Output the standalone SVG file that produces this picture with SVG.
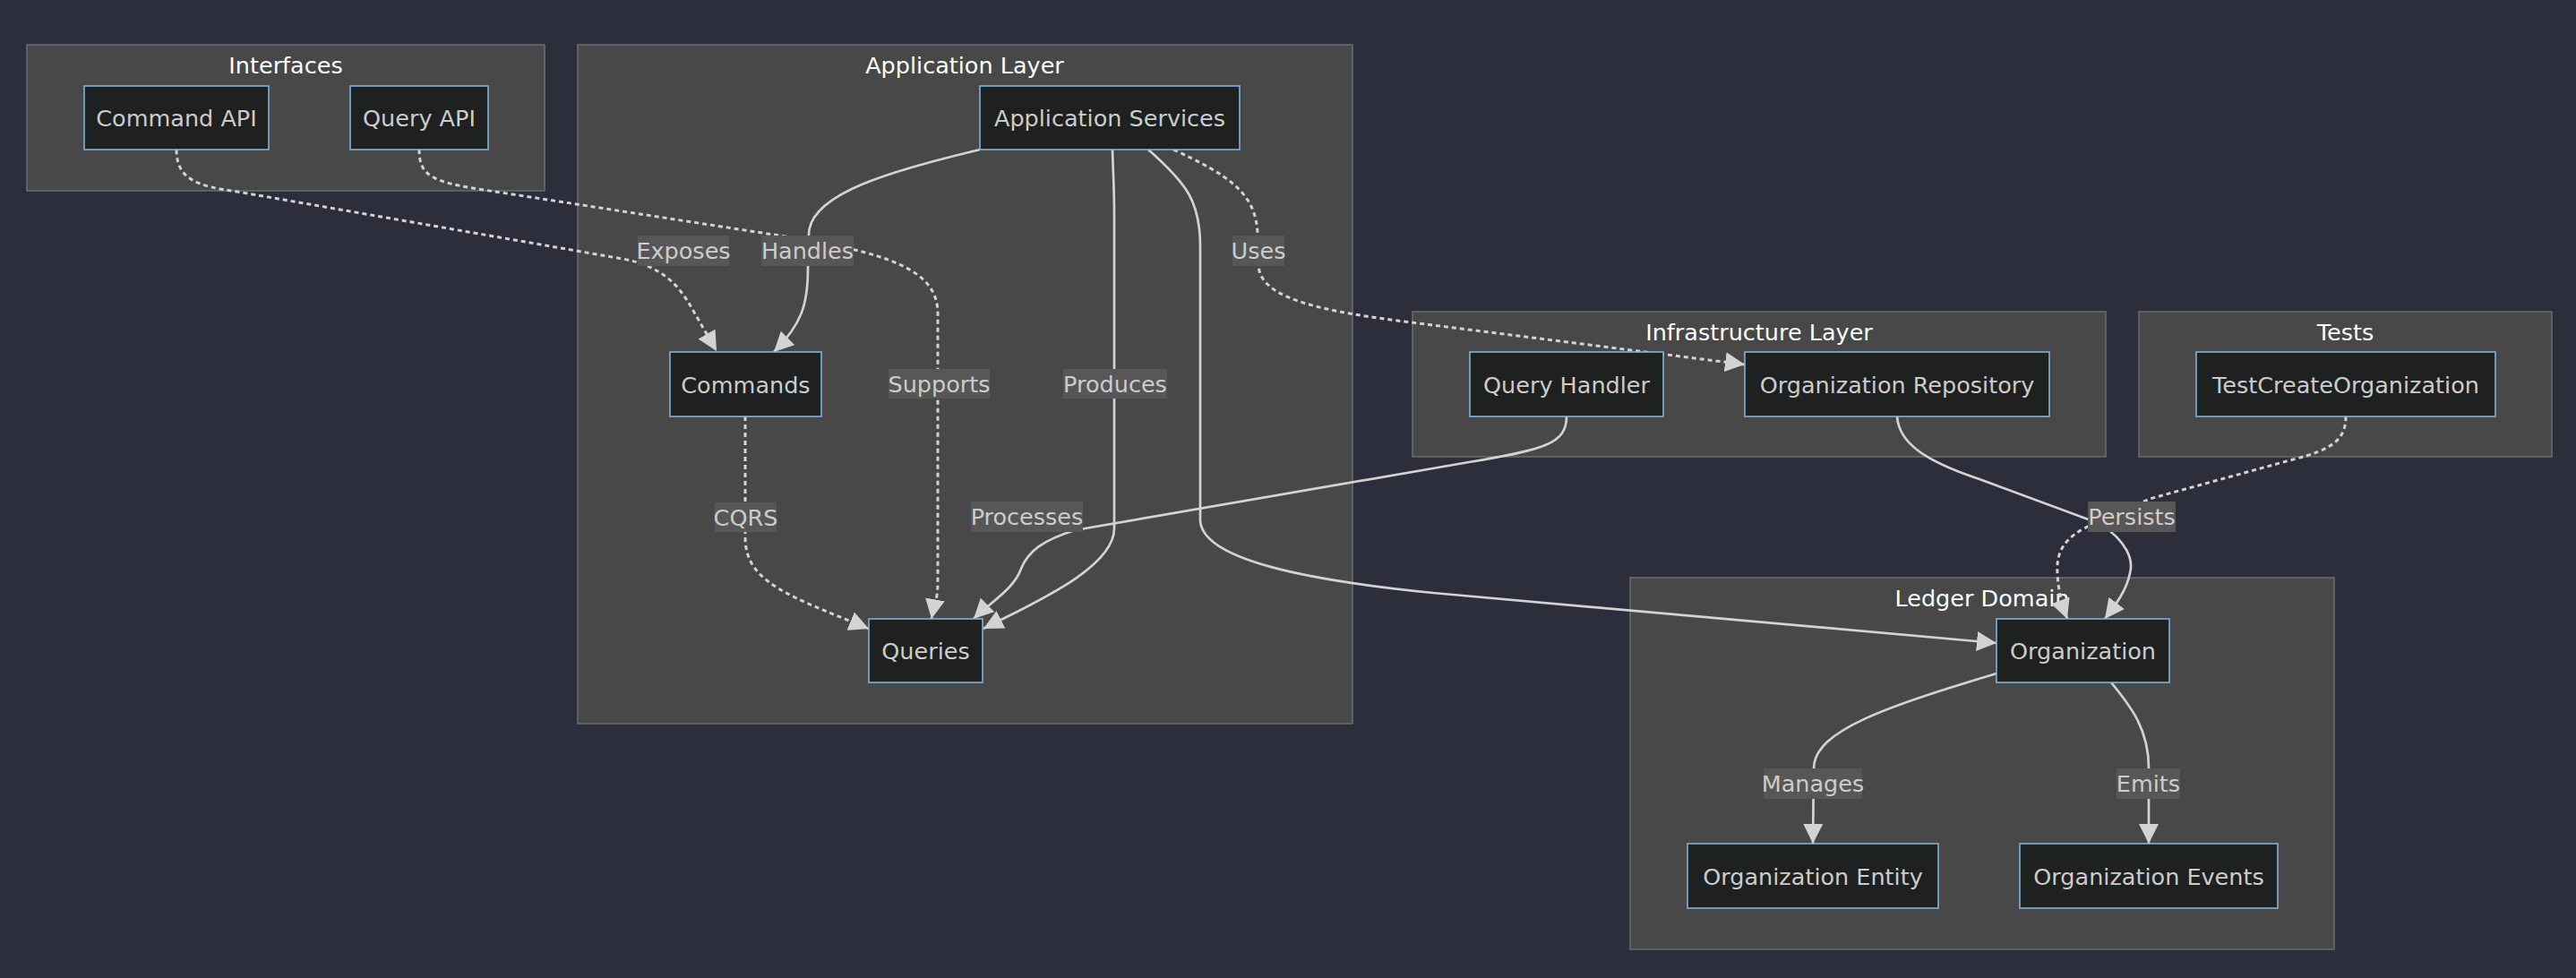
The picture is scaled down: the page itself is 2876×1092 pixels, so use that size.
<svg xmlns="http://www.w3.org/2000/svg" width="2876" height="1092" viewBox="0 0 2876 1092">
<style>
.bg{fill:#2c2f3b}
.cluster rect{fill:#484848;stroke:#6b6d72;stroke-width:1.5}
.ctitle{fill:#f9fffe;font-family:"DejaVu Sans",sans-serif;font-size:25.5px;text-anchor:middle}
.node rect{fill:#1f2020;stroke:#81b1db;stroke-width:1.6}
.node text{fill:#cccccc;font-family:"DejaVu Sans",sans-serif;font-size:25.5px;text-anchor:middle}
.edge{fill:none;stroke:#d3d3d3;stroke-width:2.7;marker-end:url(#arrow)}
.dotted{stroke-width:3;stroke-dasharray:5 4}
.elabel rect{fill:#575757}
.elabel text{fill:#cccccc;font-family:"DejaVu Sans",sans-serif;font-size:25.5px;text-anchor:middle}
</style>
<defs>
<marker id="arrow" viewBox="0 0 10 10" refX="10" refY="5" markerWidth="22" markerHeight="22" markerUnits="userSpaceOnUse" orient="auto">
<path d="M0,0 L10,5 L0,10 z" fill="#d3d3d3" stroke="none"/>
</marker>
</defs>
<rect class="bg" x="0" y="0" width="2876" height="1092"/>

<g id="clusters">
<g id="cluster-interfaces" class="cluster"><rect x="30" y="50" width="578" height="163"/><text class="ctitle" x="319" y="82">Interfaces</text></g>
<g id="cluster-application" class="cluster"><rect x="645" y="50" width="865" height="758"/><text class="ctitle" x="1077" y="82">Application Layer</text></g>
<g id="cluster-infrastructure" class="cluster"><rect x="1577" y="348" width="774" height="162"/><text class="ctitle" x="1964" y="380">Infrastructure Layer</text></g>
<g id="cluster-tests" class="cluster"><rect x="2388" y="348" width="461" height="162"/><text class="ctitle" x="2618.5" y="380">Tests</text></g>
<g id="cluster-ledger" class="cluster"><rect x="1820" y="645" width="786" height="415"/><text class="ctitle" x="2213" y="677">Ledger Domain</text></g>
</g>

<g id="connectors">
<path id="e-exposes" class="edge dotted" d="M197,167 C197,200 220,208 265,214 L695,289 C740,297 758,320 770,340 L800,392"/>
<path id="e-handles" class="edge" d="M1094,167 C1000,190 903,215 903,262 L902,300 C902,340 895,362 864,393"/>
<path id="e-supports" class="edge dotted" d="M468,167 C468,195 480,203 540,212 L870,263 C990,282 1047,300 1047,350 L1047,650 C1047,670 1042,680 1040,691"/>
<path id="e-produces" class="edge" d="M1242,167 C1243,200 1244,210 1244,240 L1244,590 C1244,635 1150,675 1098,702"/>
<path id="e-app-org" class="edge" d="M1282,167 C1325,205 1340,225 1340,275 L1340,580 C1340,625 1460,648 1600,662 L2229,718"/>
<path id="e-uses" class="edge dotted" d="M1310,167 C1370,195 1403,215 1404,262 L1405,297 C1408,330 1460,345 1560,358 L1948,407"/>
<path id="e-cqrs" class="edge dotted" d="M832,465 L832,600 C832,650 880,665 970,702"/>
<path id="e-processes" class="edge" d="M1749,465 C1749,495 1725,502 1640,516 L1200,592 C1165,603 1148,615 1140,635 C1132,658 1105,673 1087,691"/>
<path id="e-persists" class="edge" d="M2118,465 C2120,495 2150,515 2210,535 L2345,585 C2375,605 2382,625 2378,640 C2374,660 2362,675 2350,691"/>
<path id="e-test-org" class="edge dotted" d="M2619,465 C2619,490 2605,502 2560,513 L2400,557 L2340,584 C2300,600 2296,620 2297,640 C2298,660 2302,675 2308,691"/>
<path id="e-manages" class="edge" d="M2229,752 C2110,788 2025,815 2025,858 L2024,942"/>
<path id="e-emits" class="edge" d="M2357,762 C2380,790 2399,815 2399,858 L2399,942"/>
</g>

<g id="edge-labels">
<g class="elabel"><rect x="712" y="263" width="102" height="34"/><text x="763" y="289">Exposes</text></g>
<g class="elabel"><rect x="850" y="263" width="103" height="34"/><text x="901.5" y="289">Handles</text></g>
<g class="elabel"><rect x="1376" y="263" width="58" height="34"/><text x="1405" y="289">Uses</text></g>
<g class="elabel"><rect x="992" y="412" width="113" height="33"/><text x="1048.5" y="438">Supports</text></g>
<g class="elabel"><rect x="1187" y="412" width="116" height="33"/><text x="1245" y="438">Produces</text></g>
<g class="elabel"><rect x="798" y="561" width="69" height="33"/><text x="832.5" y="587">CQRS</text></g>
<g class="elabel"><rect x="1084" y="560" width="125" height="34"/><text x="1146.5" y="586">Processes</text></g>
<g class="elabel"><rect x="2331" y="560" width="98" height="34"/><text x="2380" y="586">Persists</text></g>
<g class="elabel"><rect x="1969" y="858" width="110" height="34"/><text x="2024" y="884">Manages</text></g>
<g class="elabel"><rect x="2363" y="858" width="71" height="34"/><text x="2398.5" y="884">Emits</text></g>
</g>

<g id="node-command-api" class="node"><rect x="94" y="96" width="206" height="71"/><text x="197" y="141">Command API</text></g>
<g id="node-query-api" class="node"><rect x="391" y="96" width="154" height="71"/><text x="468" y="141">Query API</text></g>
<g id="node-app-services" class="node"><rect x="1094" y="96" width="290" height="71"/><text x="1239" y="141">Application Services</text></g>
<g id="node-commands" class="node"><rect x="748" y="393" width="169" height="72"/><text x="832.5" y="438.5">Commands</text></g>
<g id="node-queries" class="node"><rect x="970" y="691" width="127" height="71"/><text x="1033.5" y="736">Queries</text></g>
<g id="node-query-handler" class="node"><rect x="1641" y="393" width="216" height="72"/><text x="1749" y="438.5">Query Handler</text></g>
<g id="node-org-repo" class="node"><rect x="1948" y="393" width="340" height="72"/><text x="2118" y="438.5">Organization Repository</text></g>
<g id="node-test-create" class="node"><rect x="2452" y="393" width="334" height="72"/><text x="2619" y="438.5">TestCreateOrganization</text></g>
<g id="node-organization" class="node"><rect x="2229" y="691" width="193" height="71"/><text x="2325.5" y="736">Organization</text></g>
<g id="node-org-entity" class="node"><rect x="1884" y="942" width="280" height="72"/><text x="2024" y="987.5">Organization Entity</text></g>
<g id="node-org-events" class="node"><rect x="2255" y="942" width="288" height="72"/><text x="2399" y="987.5">Organization Events</text></g>
</svg>
